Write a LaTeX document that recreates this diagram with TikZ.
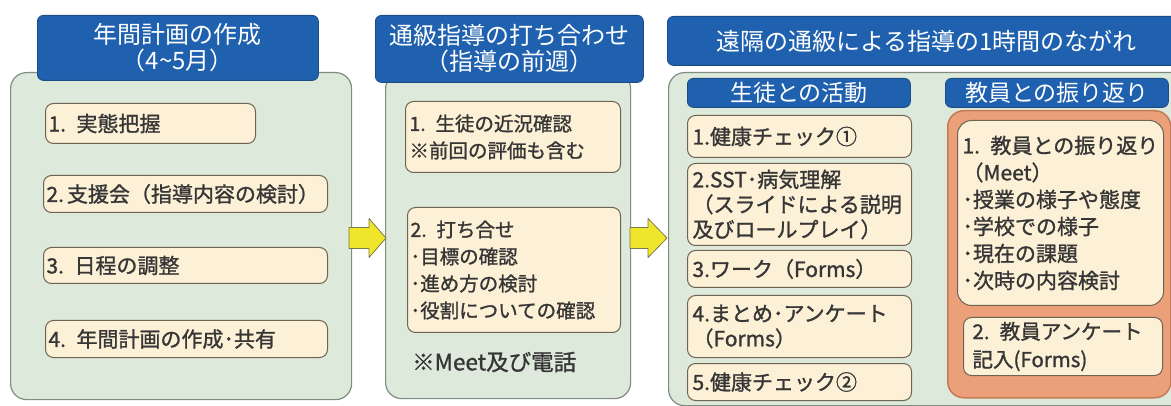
\documentclass[tikz,border=0pt]{standalone}
\usepackage{fontspec}
\setmainfont{Noto Sans CJK JP}
\newfontfamily\medfont{Noto Sans CJK JP}[FakeBold=1.2]
\usetikzlibrary{shapes.arrows}
\definecolor{hdrblue}{HTML}{1F61AE}
\definecolor{hdrborder}{HTML}{1B4C86}
\definecolor{panelfill}{HTML}{DDE9DA}
\definecolor{panelborder}{HTML}{7F8C80}
\definecolor{itemfill}{HTML}{FCF0D6}
\definecolor{itemborder}{HTML}{6E6453}
\definecolor{orangefill}{HTML}{EBA07A}
\definecolor{orangeborder}{HTML}{C47A55}
\definecolor{arrowfill}{HTML}{EFE62B}
\definecolor{arrowborder}{HTML}{7D7A4A}
\definecolor{textcol}{HTML}{363636}
\tikzset{
  panel/.style={draw=panelborder, fill=panelfill, rounded corners=16pt, line width=1.2pt, anchor=north west, inner sep=0pt},
  hdr/.style={draw=hdrborder, fill=hdrblue, rounded corners=6pt, text=white, align=center, line width=0.8pt, anchor=north west, inner sep=0pt, font=\fontsize{24}{26}\selectfont},
  item/.style={draw=itemborder, fill=itemfill, rounded corners=8pt, line width=1pt, anchor=north west, align=left, text=textcol, font=\medfont\fontsize{21}{26}\selectfont, inner xsep=3pt, inner ysep=0pt},
  orangebox/.style={draw=orangeborder, fill=orangefill, rounded corners=16pt, line width=1.5pt, anchor=north west, inner sep=0pt},
  blockarrow/.style={draw=arrowborder, fill=arrowfill, line width=0.8pt, line join=round},
}
\begin{document}
\begin{tikzpicture}[x=1pt,y=-1pt]
\useasboundingbox[fill=white] (0,0) rectangle (1171,406);
% panel 1
\node[panel, minimum width=341pt, minimum height=327pt] (p1) at (10,72) {};
\node[hdr, minimum width=281pt, minimum height=65pt] (h1) at (37,15) {年間計画の作成\\（4\textasciitilde 5月）};
\node[item, text width=204pt, minimum height=40pt] (a1) at (45,103) {1. 実態把握};
\node[item, text width=278pt, minimum height=37pt] (a2) at (43,175) {2.\hspace{3pt}支援会（指導内容の検討）};
\node[item, text width=278pt, minimum height=36pt] (a3) at (43,247) {3. 日程の調整};
\node[item, text width=276pt, minimum height=37pt] (a4) at (45,320) {4. 年間計画の作成･共有};
% panel 2
\node[panel, minimum width=245pt, minimum height=326pt] (p2) at (385,72) {};
\node[hdr, minimum width=268pt, minimum height=67pt] (h2) at (375,15) {通級指導の打ち合わせ\\（指導の前週）};
\node[item, text width=207pt, inner xsep=4pt, minimum height=71pt, font=\medfont\fontsize{19.5}{27}\selectfont] (b1) at (405,101) {1. 生徒の近況確認\\※前回の評価も含む};
\node[item, text width=207pt, minimum height=125pt, font=\medfont\fontsize{19.5}{27}\selectfont] (b2) at (407,207) {2. 打ち合せ\\･目標の確認\\･進め方の検討\\･役割についての確認};
\node[anchor=west, inner sep=0pt, text=textcol, font=\medfont\fontsize{22.5}{25}\selectfont] (meet) at (412,362) {※Meet及び電話};
% panel 3
\node[panel, minimum width=520pt, minimum height=333pt] (p3) at (668,72) {};
\node[hdr, minimum width=518pt, minimum height=49pt] (h3) at (667,16) {遠隔の通級による指導の1時間のながれ};
\node[hdr, minimum width=223pt, minimum height=29pt, font=\fontsize{23}{26}\selectfont] (s1) at (687,78) {生徒との活動};
\node[hdr, minimum width=223pt, minimum height=29pt, font=\fontsize{23}{26}\selectfont] (s2) at (945,78) {教員との振り返り};
\node[item, text width=214pt, inner xsep=5pt, minimum height=42pt] (c1) at (687,115) {1.健康チェック①};
\node[item, text width=214pt, inner xsep=5pt, minimum height=82pt, font=\medfont\fontsize{21}{25}\selectfont] (c2) at (687,163) {2.SST･病気理解\\（スライドによる説明\\及びロールプレイ）};
\node[item, text width=214pt, inner xsep=5pt, minimum height=37pt] (c3) at (687,250) {3.ワーク（Forms）};
\node[item, text width=214pt, inner xsep=5pt, minimum height=62pt, font=\medfont\fontsize{21}{25}\selectfont] (c4) at (687,295) {4.まとめ･アンケート\\（Forms）};
\node[item, text width=214pt, inner xsep=5pt, minimum height=37pt] (c5) at (687,363) {5.健康チェック②};
\node[orangebox, minimum width=223pt, minimum height=287pt] (o) at (947,110) {};
\node[item, text width=196pt, inner xsep=5pt, rounded corners=14pt, minimum height=185pt, font=\medfont\fontsize{21}{27}\selectfont] (d1) at (957,120) {1. 教員との振り返り\\（Meet）\\･授業の様子や態度\\･学校での様子\\･現在の課題\\･次時の内容検討};
\node[item, text width=181pt, inner xsep=9pt, minimum height=58pt, font=\medfont\fontsize{20.5}{28}\selectfont] (d2) at (963,317) {2. 教員アンケート\\記入(Forms)};
% arrows
\coordinate (ar1) at (349,238);
\coordinate (ar2) at (630,238);
\draw[blockarrow] (ar1) ++(0,-10.5) -- ++(20,0) -- ++(0,-9) -- ++(17,19.5) -- ++(-17,19.5) -- ++(0,-9) -- ++(-20,0) -- cycle;
\draw[blockarrow] (ar2) ++(0,-10.5) -- ++(18,0) -- ++(0,-9) -- ++(19,19.5) -- ++(-19,19.5) -- ++(0,-9) -- ++(-18,0) -- cycle;
\end{tikzpicture}
\end{document}
